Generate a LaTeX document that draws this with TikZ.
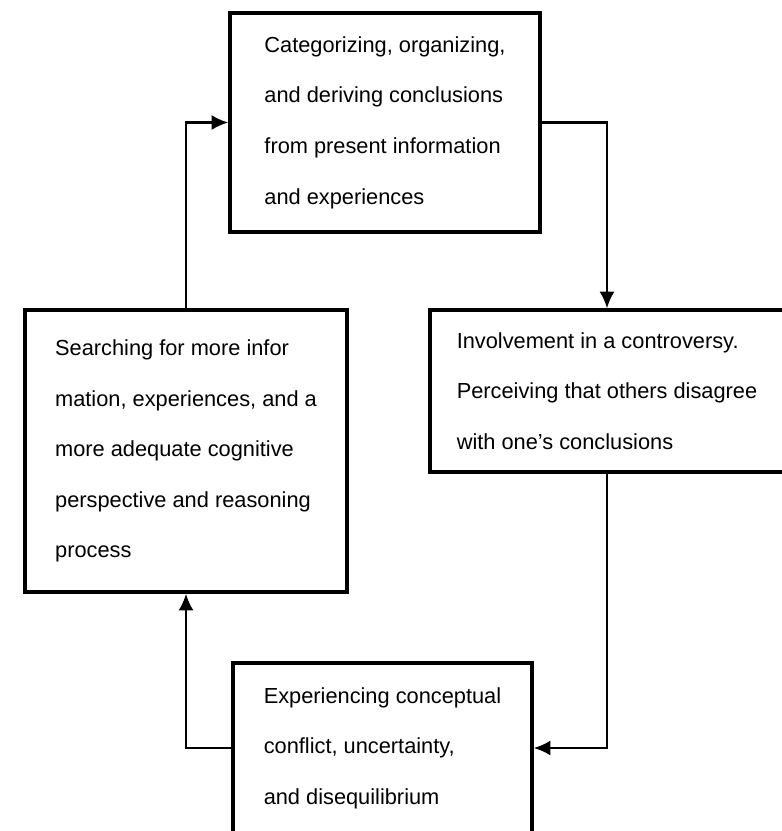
\documentclass[tikz,border=0pt]{standalone}
\usepackage{fontspec}
\setmainfont{Liberation Sans}
\usetikzlibrary{arrows.meta}

\begin{document}
\begin{tikzpicture}[x=0.025cm, y=-0.025cm, thick, >={Latex[length=4.2mm, width=3.8mm]}, stage/.style = {draw, line width=2.3pt, align=left, font=\fontsize{15.5}{36}\selectfont}] 
    \useasboundingbox (0,0) rectangle (782,831);
    % Draw the four stages of the cycle
    
    
    \node[stage, minimum width=7.75cm, minimum height=5.475cm] (cat) at (385,122.5) {Categorizing, organizing,\\and deriving conclusions\\from present information\\and experiences};
    \node[stage, minimum width=8.85cm, minimum height=4.05cm] (inv) at (607,391) {Involvement in a controversy.\\Perceiving that others disagree\\with one's conclusions};
    \node[stage, minimum width=7.475cm, minimum height=4.25cm] (exp) at (382.5,748) {Experiencing conceptual\\conflict, uncertainty,\\and disequilibrium};
    \node[stage, minimum width=8.05cm, minimum height=7.05cm] (srch) at (186,451) {Searching for more infor\\mation, experiences, and a\\more adequate cognitive\\perspective and reasoning\\process};
    % Draw the arrows round the cycle
    \draw[->,line width=1.9 pt] (srch.north) |- (cat.west);
    \draw[->,line width=1.9 pt] (cat.east) -| (inv.north);
    \draw[->,line width=1.9 pt] (inv.south) |- (exp.east);
    \draw[->,line width=1.9 pt] (exp.west) -| (srch.south);

\end{tikzpicture}
\end{document}
